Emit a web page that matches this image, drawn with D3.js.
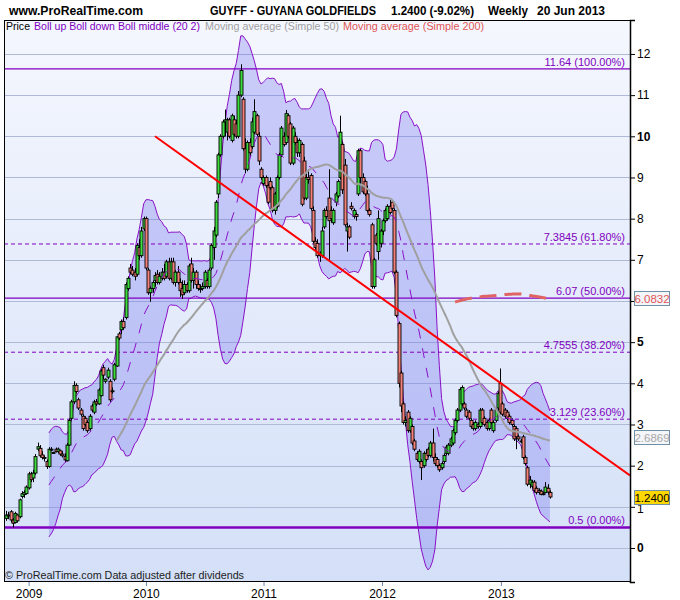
<!DOCTYPE html>
<html><head><meta charset="utf-8">
<script src="https://cdn.jsdelivr.net/npm/d3@7"></script>
<style>body{margin:0;background:#fff;} svg{display:block;font-family:Arial,"Liberation Sans",sans-serif;}</style>
</head><body><svg id="c" width="680" height="600"></svg>
<script>
// ---- weekly OHLC (index 0 = first week shown, last = week of 20 Jun 2013) ----
const open=[
.72,.80,.88,.68,.62,.80,.76,1.25,1.30,1.32,
1.46,1.80,1.70,1.82,2.40,2.42,2.26,2.20,2.10,1.98,
2.38,2.32,2.40,2.34,2.36,2.28,2.22,2.12,2.50,3.15,
3.55,3.95,3.60,3.35,3.20,3.15,3.05,2.90,3.45,3.30,
3.55,3.50,3.70,4.38,4.05,4.15,4.05,3.80,4.10,4.42,
5.20,5.30,5.50,5.60,6.30,6.80,6.75,6.70,6.65,7.30,
7.10,7.75,8.00,6.75,6.20,6.30,6.50,6.65,6.45,6.55,
6.70,6.60,6.95,6.55,6.95,6.45,6.70,6.45,6.30,6.20,
6.40,6.25,6.90,6.50,6.70,6.40,6.30,6.30,6.35,6.50,
6.35,6.80,7.30,7.60,8.60,9.55,10.00,10.35,10.10,10.40,
9.90,10.40,10.30,10.00,11.00,10.90,9.70,9.20,9.85,9.75,
10.10,10.50,10.00,9.20,8.85,9.00,8.80,8.90,8.75,8.20,
8.30,9.00,9.55,10.00,9.85,10.50,10.30,9.35,10.00,9.85,
9.60,9.80,9.40,8.50,9.00,9.05,8.20,7.45,7.40,7.15,
7.10,7.80,8.20,8.50,8.20,7.90,8.40,8.55,9.00,9.80,
9.30,7.70,7.80,8.30,8.05,8.10,8.60,9.65,9.00,8.90,
8.60,8.20,7.85,6.35,7.60,7.20,7.40,7.70,7.95,8.00,
8.30,8.40,8.20,6.70,5.45,4.25,3.50,3.05,3.30,2.85,
2.95,2.60,2.30,2.10,2.10,2.00,2.30,2.40,2.25,2.55,
2.20,2.15,2.00,1.95,2.10,2.30,2.30,2.50,2.55,2.80,
3.10,3.35,3.50,3.50,3.35,3.30,3.10,3.00,2.90,3.00,
2.95,3.35,3.15,3.05,2.90,3.35,2.85,3.10,3.40,4.00,
3.50,3.35,3.30,3.20,3.10,2.95,2.90,2.70,2.60,2.70,
2.20,1.95,1.55,1.50,1.60,1.45,1.40,1.38,1.30,1.35,
1.45,1.35];
const high=[
.90,.88,.92,.72,.88,.82,1.20,1.38,1.40,1.52,
1.85,1.85,1.90,2.28,2.56,2.50,2.35,2.25,2.15,2.45,
2.45,2.34,2.44,2.44,2.38,2.35,2.30,2.55,3.15,3.60,
4.05,4.00,3.65,3.40,3.25,3.20,3.10,3.25,3.50,3.60,
3.62,3.88,4.35,4.45,4.12,4.38,4.10,3.90,4.50,5.15,
5.25,5.55,5.60,6.45,6.60,6.90,6.85,6.80,7.40,7.50,
7.80,8.05,8.05,6.80,6.35,6.50,6.70,6.75,6.70,6.80,
6.90,7.00,7.05,7.05,7.05,6.75,6.85,6.55,6.50,6.50,
6.45,6.90,7.05,6.80,6.75,6.50,6.40,6.45,6.75,6.55,
6.80,7.40,7.80,8.45,9.60,10.05,10.40,10.65,10.45,10.45,
10.55,10.50,10.40,11.10,11.75,10.95,9.95,9.90,9.95,10.45,
10.90,10.55,10.10,9.25,9.05,9.05,8.85,9.00,8.80,8.65,
9.05,9.60,10.25,10.10,10.64,10.55,10.35,10.25,10.10,9.95,
9.95,9.85,9.50,9.10,9.20,9.10,8.30,7.55,7.50,7.20,
7.80,8.25,8.30,9.20,8.30,8.25,8.65,8.95,10.50,9.85,
9.45,7.90,7.85,8.40,8.25,8.15,9.70,9.70,9.10,8.95,
8.80,8.25,7.90,7.05,7.65,8.20,7.75,8.00,8.25,8.35,
8.45,8.45,8.25,6.75,5.50,4.30,3.55,3.20,3.35,3.20,
3.00,2.65,2.35,2.40,2.15,2.35,2.40,2.45,2.60,2.90,
2.30,2.20,2.05,2.10,2.30,2.50,2.55,2.70,2.90,3.15,
3.40,3.90,3.95,3.55,3.40,3.35,3.15,3.05,3.10,3.05,
3.40,3.40,3.20,3.10,3.15,3.40,3.10,3.40,3.80,4.36,
3.55,3.40,3.35,3.25,3.15,3.00,2.95,2.75,2.65,2.75,
2.25,2.00,1.75,1.65,1.65,1.50,1.45,1.42,1.36,1.60,
1.55,1.40];
const low=[
.66,.70,.62,.50,.60,.62,.72,1.20,1.22,1.30,
1.42,1.60,1.60,1.78,2.35,2.20,2.15,2.10,1.92,1.95,
2.35,2.30,2.32,2.30,2.24,2.20,2.08,2.10,2.48,3.10,
3.50,3.75,3.35,3.20,2.85,2.95,2.80,2.85,3.30,3.25,
3.45,3.48,3.68,4.10,4.00,4.10,3.55,3.75,4.05,4.40,
5.05,5.20,5.30,5.55,6.25,6.65,6.60,6.50,6.60,7.00,
7.05,7.70,6.75,6.15,5.98,6.20,6.35,6.40,6.40,6.50,
6.50,6.55,6.50,6.50,6.40,6.35,6.40,6.10,6.05,6.15,
6.20,6.20,6.45,6.30,6.30,6.25,6.20,6.25,6.30,6.30,
6.30,6.75,7.00,7.55,8.50,9.50,9.95,10.00,9.90,9.95,
9.85,10.00,9.95,9.95,10.95,9.65,9.10,9.15,9.50,9.70,
10.05,10.00,9.30,8.95,8.80,8.75,8.35,8.70,8.15,8.10,
8.25,8.95,9.50,9.75,9.80,9.95,9.30,9.30,9.80,9.50,
9.50,8.30,8.45,8.45,8.85,8.20,7.40,7.25,7.05,6.95,
7.05,7.75,8.00,7.00,7.90,7.85,8.30,8.50,8.95,8.60,
7.80,7.20,7.50,8.20,8.00,7.95,8.55,8.85,8.60,8.55,
8.15,8.05,6.30,6.30,7.35,7.00,7.30,7.60,7.90,7.95,
8.10,8.20,6.65,5.60,3.90,3.30,3.00,2.95,2.80,2.80,
2.50,2.35,2.10,2.05,1.65,1.95,2.10,2.20,2.20,2.10,
2.00,1.95,1.85,1.90,2.05,2.25,2.25,2.45,2.50,2.75,
3.05,3.30,3.45,3.35,3.15,3.10,2.90,2.85,2.85,2.90,
2.90,3.00,2.95,2.85,2.85,3.00,2.80,3.05,3.35,3.25,
3.20,3.15,3.10,3.00,2.95,2.60,2.40,2.60,2.55,2.15,
2.00,1.50,1.45,1.45,1.35,1.30,1.30,1.28,1.28,1.33,
1.30,1.20];
const close=[
.80,.78,.68,.60,.84,.66,1.17,1.32,1.35,1.48,
1.80,1.66,1.82,2.22,2.46,2.24,2.20,2.18,1.98,2.40,
2.40,2.32,2.34,2.40,2.28,2.24,2.14,2.50,3.10,3.55,
3.95,3.80,3.40,3.25,2.90,3.00,2.85,3.20,3.35,3.55,
3.50,3.84,4.30,4.20,4.10,4.32,3.60,3.82,4.45,5.13,
5.10,5.50,5.35,6.40,6.55,6.70,6.65,6.60,7.35,7.10,
7.70,8.00,6.80,6.20,6.30,6.45,6.62,6.45,6.60,6.70,
6.55,6.95,6.55,6.95,6.45,6.70,6.45,6.25,6.15,6.40,
6.25,6.85,6.50,6.70,6.40,6.30,6.30,6.35,6.70,6.35,
6.75,7.35,7.70,8.40,9.55,10.00,10.35,10.40,10.40,10.00,
10.50,10.05,10.00,11.00,11.60,9.70,9.20,9.85,9.60,10.35,
10.60,10.05,9.40,9.00,9.00,8.80,8.40,8.75,8.20,8.60,
9.00,9.55,10.20,9.80,10.55,10.00,9.35,10.20,9.85,9.60,
9.90,8.35,8.50,9.00,8.95,8.25,7.45,7.30,7.10,7.10,
7.70,8.20,8.05,7.95,8.00,8.20,8.60,8.90,10.10,8.70,
7.85,7.80,7.55,8.25,8.20,8.05,9.65,9.00,8.65,8.60,
8.20,8.10,6.35,7.00,7.40,8.00,7.70,7.95,8.20,8.30,
8.15,8.25,6.70,5.65,4.00,3.45,3.05,3.10,2.85,3.15,
2.55,2.40,2.15,2.35,1.95,2.30,2.15,2.25,2.55,2.20,
2.05,2.00,1.90,2.05,2.25,2.45,2.50,2.65,2.85,3.10,
3.35,3.85,3.90,3.40,3.20,3.15,2.95,2.90,3.05,2.95,
3.35,3.05,3.00,2.90,3.10,3.05,3.05,3.35,3.75,3.30,
3.25,3.20,3.15,3.05,3.00,2.65,2.70,2.65,2.60,2.20,
2.05,1.55,1.65,1.60,1.40,1.35,1.35,1.30,1.32,1.48,
1.36,1.24];

// ---- axes / annotations ----
const yearLabels=['2009','2010','2011','2012','2013'];
const yearWeeks=[10,62,114.1,166.6,219.3];
const priceTicks=[0,1,2,3,4,5,6,7,8,9,10,11,12];
const fibValues=[11.64,7.3845,6.07,4.7555,3.129,0.5];
const fibPct=[100,61.8,50,38.2,23.6,0];
const fibText=['11.64 (100.00%)','7.3845 (61.80%)','6.07 (50.00%)','4.7555 (38.20%)','3.129 (23.60%)','0.5 (0.00%)'];
const trendWeeks=[66,276.5];
const trendValues=[10.0,1.76];
const tagValues=[6.0832,2.6869,1.24];
const tagText=['6.0832','2.6869','1.2400'];
const bollPeriod=20, bollMult=2, maShort=50, maLong=200;

// ---- layout ----
const L=4,R=630,T=20,B=582;
const svg=d3.select('#c');
const x=d3.scaleLinear().domain([-0.9,276.5]).range([L,R]);
const y=d3.scaleLinear().domain([-0.826,12.825]).range([B,T]);

const defs=svg.append('defs');
const g=defs.append('linearGradient').attr('id','bg').attr('x1',0).attr('y1',0).attr('x2',0).attr('y2',1);
g.append('stop').attr('offset','0%').attr('stop-color','#f5f7fe');
g.append('stop').attr('offset','100%').attr('stop-color','#d4e0f8');
defs.append('clipPath').attr('id','clip').append('rect').attr('x',L).attr('y',T).attr('width',R-L).attr('height',B-T);

svg.append('rect').attr('x',L).attr('y',T).attr('width',R-L).attr('height',B-T).attr('fill','url(#bg)');

const P=svg.append('g').attr('clip-path','url(#clip)');

// grid
P.selectAll('.grid').data(priceTicks).join('line')
 .attr('x1',L).attr('x2',R).attr('y1',d=>Math.round(y(d))+0.5).attr('y2',d=>Math.round(y(d))+0.5)
 .attr('stroke','#aebad6').attr('stroke-width',1);

// indicators
const idx=d3.range(close.length);
const boll=idx.filter(i=>i>=bollPeriod-1).map(i=>{
  const w=close.slice(i-bollPeriod+1,i+1); const m=d3.mean(w);
  const sd=Math.sqrt(d3.mean(w,v=>(v-m)*(v-m)));
  return {i,m,up:m+bollMult*sd,dn:m-bollMult*sd};
});
const sma=n=>idx.filter(i=>i>=n-1).map(i=>({i,v:d3.mean(close.slice(i-n+1,i+1))}));
const ma50=sma(maShort), ma200=sma(maLong);

P.append('path').datum(boll)
 .attr('d',d3.area().x(d=>x(d.i)).y0(d=>y(d.dn)).y1(d=>y(d.up)))
 .attr('fill','#6a6af0').attr('fill-opacity',0.3);
['up','dn'].forEach(k=>{
  P.append('path').datum(boll).attr('d',d3.line().x(d=>x(d.i)).y(d=>y(d[k])))
   .attr('fill','none').attr('stroke','#8a10c8').attr('stroke-width',1);
});

// fib lines
fibValues.forEach((v,i)=>{
  const p=fibPct[i];
  const solid=(p===0||p===50||p===100);
  P.append('line').attr('x1',L).attr('x2',R).attr('y1',y(v)).attr('y2',y(v))
   .attr('stroke','#8000c0').attr('stroke-width',p===0?2.5:(solid?1.2:1))
   .attr('stroke-dasharray',solid?null:'4,3');
});

// candles
const cg=P.append('g');
idx.forEach(i=>{
  const up=close[i]>=open[i];
  const cx=Math.round(x(i))+0.5;
  cg.append('line').attr('x1',cx).attr('x2',cx).attr('y1',y(high[i])).attr('y2',y(low[i]))
    .attr('stroke','#000').attr('stroke-width',1);
  const top=y(Math.max(open[i],close[i])), bot=y(Math.min(open[i],close[i]));
  cg.append('rect').attr('x',cx-1.5).attr('y',top).attr('width',3).attr('height',Math.max(1,bot-top))
    .attr('fill',up?'#3fdc3f':'#f4827a').attr('stroke','#000').attr('stroke-width',0.9);
});

// moving averages and boll middle
P.append('path').datum(boll).attr('d',d3.line().x(d=>x(d.i)).y(d=>y(d.m)))
 .attr('fill','none').attr('stroke','#8a10c8').attr('stroke-width',1).attr('stroke-dasharray','10,10');
P.append('path').datum(ma50).attr('d',d3.line().curve(d3.curveMonotoneX).x(d=>x(d.i)).y(d=>y(d.v)))
 .attr('fill','none').attr('stroke','#a0a0a0').attr('stroke-width',2);
P.append('path').datum(ma200).attr('d',d3.line().curve(d3.curveMonotoneX).x(d=>x(d.i)).y(d=>y(d.v)))
 .attr('fill','none').attr('stroke','#e06464').attr('stroke-width',3).attr('stroke-dasharray','17,8');

// trend line
P.append('line').attr('x1',x(trendWeeks[0])).attr('y1',y(trendValues[0]))
 .attr('x2',x(trendWeeks[1])).attr('y2',y(trendValues[1]))
 .attr('stroke','#ff0000').attr('stroke-width',2);

// fib labels
fibValues.forEach((v,i)=>{
  svg.append('text').attr('x',625).attr('y',y(v)-3).attr('text-anchor','end')
   .attr('font-size','11px').attr('fill','#8000c0').text(fibText[i]);
});

// frame
svg.append('rect').attr('x',L+0.5).attr('y',T+0.5).attr('width',R-L).attr('height',B-T-1)
 .attr('fill','none').attr('stroke','#000').attr('stroke-width',1);

// right axis (the 6 label sits under the 6.0832 tag in the reference)
const ya=svg.append('g').attr('transform',`translate(${R},0)`)
 .call(d3.axisRight(y).tickValues(priceTicks).tickSize(5).tickPadding(2).tickFormat(d=>d===6?'':d3.format('d')(d)));
ya.select('.domain').attr('stroke','#000').attr('stroke-width',1.5);
ya.selectAll('text').attr('font-size','12px').attr('fill','#000').attr('font-family','Arial,"Liberation Sans",sans-serif')
  .attr('font-weight',d=>d%5===0?'bold':'normal');
ya.selectAll('text').filter(d=>d===1).attr('dy','0.5em');

// bottom axis
const xa=svg.append('g').attr('transform',`translate(0,${B})`)
 .call(d3.axisBottom(x).tickValues(yearWeeks).tickSize(4).tickPadding(3).tickFormat((d,i)=>yearLabels[i]));
xa.select('.domain').remove();
xa.selectAll('line').attr('stroke','#6f88a8');
xa.selectAll('text').attr('font-size','12px').attr('fill','#000').attr('font-family','Arial,"Liberation Sans",sans-serif');

// value tags
const tagStyles=[{fill:'#f4f6fa',color:'#e05555'},{fill:'#f4f6fa',color:'#a8a8a8'},{fill:'#ffd700',color:'#000'}];
tagValues.forEach((v,i)=>{
  const cy=y(v);
  svg.append('rect').attr('x',634.5).attr('y',Math.round(cy-7)+0.5).attr('width',35).attr('height',14)
   .attr('fill',tagStyles[i].fill).attr('stroke','#7090a8').attr('stroke-width',1);
  svg.append('text').attr('x',652).attr('y',Math.round(cy)+4.5).attr('text-anchor','middle')
   .attr('font-size','11.5px').attr('fill',tagStyles[i].color).text(tagText[i]);
});

// header
const hdr=[['www.ProRealTime.com',9,134],['GUYFF - GUYANA GOLDFIELDS',210,166],['1.2400 (-9.02%)',391,83],['Weekly',488,40],['20 Jun 2013',537,68]];
hdr.forEach(h=>svg.append('text').attr('x',h[1]).attr('y',15).attr('font-size','12px').attr('font-weight','bold')
  .attr('fill','#000').attr('textLength',h[2]).attr('lengthAdjust','spacingAndGlyphs').text(h[0]));

// legend
const leg=[['Price',6,24,'#000'],['Boll up Boll down Boll middle (20 2)',34,166,'#8000c0'],
 ['Moving average (Simple 50)',205,134,'#a0a0a0'],['Moving average (Simple 200)',343,141,'#e05555']];
leg.forEach(h=>svg.append('text').attr('x',h[1]).attr('y',30).attr('font-size','11px')
  .attr('fill',h[3]).attr('textLength',h[2]).attr('lengthAdjust','spacingAndGlyphs').text(h[0]));

svg.append('text').attr('x',5).attr('y',579).attr('font-size','11px').attr('fill','#222')
 .attr('textLength',239).attr('lengthAdjust','spacingAndGlyphs')
 .text('© ProRealTime.com  Data adjusted after dividends');
</script></body></html>
